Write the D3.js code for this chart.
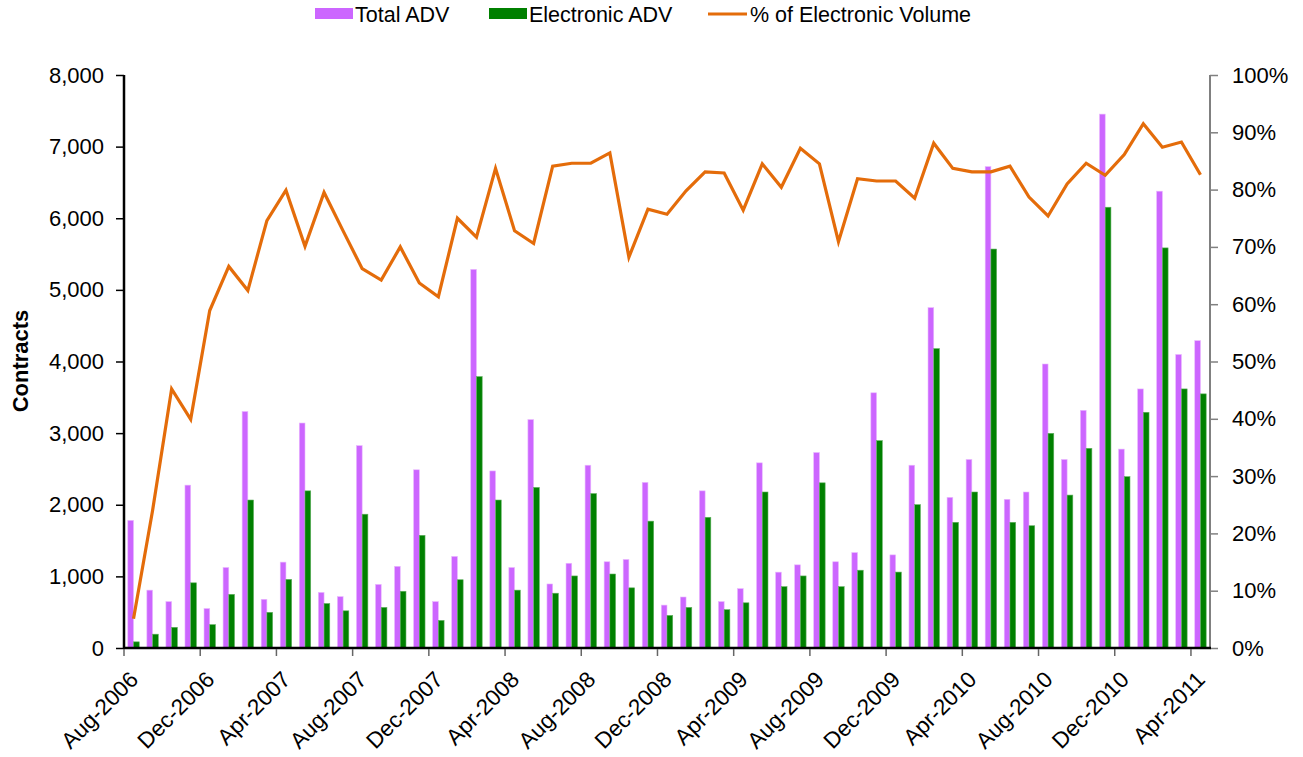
<!DOCTYPE html>
<html>
<head>
<meta charset="utf-8">
<script src="https://cdn.jsdelivr.net/npm/d3@7"></script>
<style>
  html, body { margin: 0; padding: 0; background: #fff; }
  svg { display: block; font-family: "Liberation Sans", Arial, sans-serif; }
</style>
</head>
<body>
<svg id="chart" width="1303" height="757"></svg>
<script>
const months = ["Aug-2006","Sep-2006","Oct-2006","Nov-2006","Dec-2006","Jan-2007","Feb-2007","Mar-2007",
  "Apr-2007","May-2007","Jun-2007","Jul-2007","Aug-2007","Sep-2007","Oct-2007","Nov-2007",
  "Dec-2007","Jan-2008","Feb-2008","Mar-2008","Apr-2008","May-2008","Jun-2008","Jul-2008",
  "Aug-2008","Sep-2008","Oct-2008","Nov-2008","Dec-2008","Jan-2009","Feb-2009","Mar-2009",
  "Apr-2009","May-2009","Jun-2009","Jul-2009","Aug-2009","Sep-2009","Oct-2009","Nov-2009",
  "Dec-2009","Jan-2010","Feb-2010","Mar-2010","Apr-2010","May-2010","Jun-2010","Jul-2010",
  "Aug-2010","Sep-2010","Oct-2010","Nov-2010","Dec-2010","Jan-2011","Feb-2011","Mar-2011","Apr-2011"];

const totalADV = [1782, 808, 648, 2274, 551, 1124, 3302, 680, 1199, 3141, 776, 717, 2825, 888, 1140, 2488,
  648, 1279, 5286, 2472, 1124, 3189, 894, 1183, 2552, 1204, 1236, 2312, 599, 712, 2194, 648,
  829, 2585, 1059, 1161, 2729, 1204, 1332, 3563, 1300, 2552, 4752, 2103, 2632, 6721, 2076, 2178,
  3965, 2632, 3318, 7454, 2777, 3617, 6378, 4098, 4291];

const electronicADV = [86, 193, 289, 910, 326, 749, 2066, 498, 958, 2194, 621, 519, 1868, 567, 792, 1573,
  385, 953, 3789, 2066, 808, 2242, 765, 1006, 2156, 1033, 840, 1771, 455, 567, 1825, 535,
  631, 2178, 856, 1006, 2306, 856, 1086, 2895, 1060, 2001, 4180, 1755, 2178, 5570, 1755, 1707,
  2997, 2135, 2788, 6154, 2392, 3291, 5586, 3617, 3548];

const pctElectronic = [5.1, 24, 45.2, 39.9, 58.9, 66.6, 62.4, 74.6, 79.9, 70.1, 79.5, 72.8, 66.2, 64.2, 70.0, 63.7,
  61.3, 75.0, 71.7, 83.7, 72.8, 70.6, 84.1, 84.6, 84.6, 86.4, 68.2, 76.6, 75.7, 79.8, 83.1, 82.9,
  76.4, 84.5, 80.4, 87.2, 84.5, 70.9, 81.9, 81.5, 81.5, 78.5, 88.1, 83.7, 83.1, 83.1, 84.1, 78.7,
  75.4, 81.0, 84.6, 82.5, 86.1, 91.5, 87.4, 88.3, 82.6];

const leftTicks = [0, 1000, 2000, 3000, 4000, 5000, 6000, 7000, 8000];
const rightTicks = [0, 10, 20, 30, 40, 50, 60, 70, 80, 90, 100];
const xLabelMonths = ["Aug-2006","Dec-2006","Apr-2007","Aug-2007","Dec-2007","Apr-2008","Aug-2008","Dec-2008",
  "Apr-2009","Aug-2009","Dec-2009","Apr-2010","Aug-2010","Dec-2010","Apr-2011"];

const seriesNames = ["Total ADV", "Electronic ADV", "% of Electronic Volume"];
const colors = { total: "#CC66FF", elec: "#008000", pct: "#E46C0A" };

const svg = d3.select("#chart");
const L = 124, R = 1210, T = 75, B = 648;

const x = d3.scaleBand().domain(months).range([L, R]).paddingInner(0).paddingOuter(0);
const yL = d3.scaleLinear().domain([0, 8000]).range([B, T]);
const yR = d3.scaleLinear().domain([0, 100]).range([B, T]);

const bw = x.bandwidth();
const barW = bw * 0.3;

// bars
const g = svg.append("g");
g.selectAll("rect.total").data(months).join("rect")
  .attr("class", "total")
  .attr("x", (d) => x(d) + bw / 2 - barW)
  .attr("y", (d, i) => yL(totalADV[i]))
  .attr("width", barW)
  .attr("height", (d, i) => B - yL(totalADV[i]))
  .attr("fill", colors.total)
  .attr("stroke", "#E9B8FF").attr("stroke-width", 0.6);

g.selectAll("rect.elec").data(months).join("rect")
  .attr("class", "elec")
  .attr("x", (d) => x(d) + bw / 2)
  .attr("y", (d, i) => yL(electronicADV[i]))
  .attr("width", barW)
  .attr("height", (d, i) => B - yL(electronicADV[i]))
  .attr("fill", colors.elec)
  .attr("stroke", "#5FAF5F").attr("stroke-width", 0.6);

// line
const line = d3.line()
  .x((d, i) => x(months[i]) + bw / 2)
  .y((d) => yR(d));
svg.append("path").datum(pctElectronic)
  .attr("d", line)
  .attr("fill", "none")
  .attr("stroke", colors.pct)
  .attr("stroke-width", 3.2)
  .attr("stroke-linejoin", "miter");

// left axis
const fmt = d3.format(",");
const axL = svg.append("g").attr("transform", `translate(${L},0)`)
  .call(d3.axisLeft(yL).tickValues(leftTicks).tickFormat(fmt).tickSize(8).tickPadding(12));
axL.select(".domain").attr("stroke", "#000").attr("stroke-width", 2.5).attr("d", `M0,${T}V${B}`);
axL.selectAll(".tick line").attr("stroke", "#000").attr("stroke-width", 1.5);
axL.selectAll(".tick text").attr("font-size", 22).attr("fill", "#000")
  .attr("font-family", "Liberation Sans, Arial, sans-serif");

// right axis
const axR = svg.append("g").attr("transform", `translate(${R},0)`)
  .call(d3.axisRight(yR).tickValues(rightTicks).tickFormat((d) => d + "%").tickSize(8).tickPadding(14));
axR.select(".domain").attr("stroke", "#808080").attr("stroke-width", 2).attr("d", `M0,${T}V${B}`);
axR.selectAll(".tick line").attr("stroke", "#808080").attr("stroke-width", 1.5);
axR.selectAll(".tick text").attr("font-size", 22).attr("fill", "#000")
  .attr("font-family", "Liberation Sans, Arial, sans-serif");

// bottom axis
const axB = svg.append("g").attr("transform", `translate(0,${B})`);
axB.append("line").attr("x1", L).attr("x2", R + 1).attr("y1", 0).attr("y2", 0)
  .attr("stroke", "#000").attr("stroke-width", 2.5);
axB.selectAll("line.tk").data(xLabelMonths).join("line")
  .attr("class", "tk")
  .attr("x1", (d) => x(d)).attr("x2", (d) => x(d))
  .attr("y1", 1).attr("y2", 8)
  .attr("stroke", "#666").attr("stroke-width", 1.5);
axB.selectAll("text").data(xLabelMonths).join("text")
  .attr("transform", (d) => `translate(${x(d) + bw / 2 + 6},${33}) rotate(-45)`)
  .attr("text-anchor", "end")
  .attr("font-size", 22.5)
  .attr("fill", "#000")
  .text((d) => d);

// y title
svg.append("text")
  .attr("transform", `translate(28,361) rotate(-90)`)
  .attr("text-anchor", "middle")
  .attr("font-size", 22).attr("font-weight", "bold")
  .text("Contracts");

// legend
const leg = svg.append("g");
leg.append("rect").attr("x", 315).attr("y", 8).attr("width", 38).attr("height", 11).attr("fill", colors.total);
leg.append("text").attr("x", 355).attr("y", 22).attr("font-size", 21.5).text(seriesNames[0]);
leg.append("rect").attr("x", 489).attr("y", 8).attr("width", 38).attr("height", 11).attr("fill", colors.elec);
leg.append("text").attr("x", 529).attr("y", 22).attr("font-size", 21.5).text(seriesNames[1]);
leg.append("line").attr("x1", 708).attr("x2", 747).attr("y1", 14).attr("y2", 14)
  .attr("stroke", colors.pct).attr("stroke-width", 3);
leg.append("text").attr("x", 750).attr("y", 22).attr("font-size", 21.5).text(seriesNames[2]);
</script>
</body>
</html>
